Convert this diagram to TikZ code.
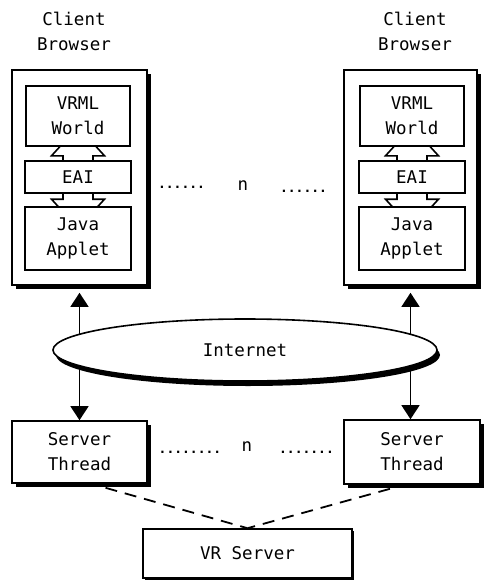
\documentclass[tikz,border=0pt]{standalone}
\usepackage{fontspec}
\setmainfont{DejaVu Sans Mono}
\usepackage{tikz}
\usetikzlibrary{shapes.geometric,arrows.meta,calc,shadows}
\pgfdeclarelayer{back}
\pgfdeclarelayer{mid}
\pgfsetlayers{back,mid,main}

\tikzset{
    box/.style={rectangle,draw,line width=1.6pt,fill=white,align=center,inner sep=0pt},
    heavyshadow/.style={drop shadow={shadow xshift=4pt,shadow yshift=-4pt,fill=black,opacity=1}},
    lightshadow/.style={drop shadow={shadow xshift=2pt,shadow yshift=-2pt,fill=black,opacity=1}},
    blockarrow/.style={draw,line width=1.6pt,fill=white,line join=miter},
    link/.style={line width=1.4pt,{Triangle[length=14pt,width=18pt]}-{Triangle[length=14pt,width=18pt]},shorten <=7pt},
    threadlink/.style={line width=1.8pt,dash pattern=on 12pt off 8pt},
    dotrow/.style={font=\fontsize{13}{15}\selectfont\bfseries,inner sep=0pt},
}

\begin{document}
\begin{tikzpicture}[x=1pt,y=-1pt,font=\fontsize{17.5}{25}\selectfont]
    \useasboundingbox (0,0) rectangle (487,581);

    % Client browsers (outer frames)
    \begin{pgfonlayer}{back}
        \node[box,heavyshadow,minimum width=135pt,minimum height=215pt] (browserL) at (79.5,177.5) {};
        \node[box,heavyshadow,minimum width=133pt,minimum height=215pt] (browserR) at (410.5,177.5) {};
    \end{pgfonlayer}
    \node[align=center] (labelL) at (74,31) {Client\\Browser};
    \node[align=center] (labelR) at (415,31) {Client\\Browser};

    % Left browser contents
    \node[box,minimum width=104pt,minimum height=60pt] (vrmlL) at (78,116) {VRML\\World};
    \node[box,minimum width=106pt,minimum height=32pt] (eaiL) at (78,177) {EAI};
    \node[box,minimum width=106pt,minimum height=63pt] (javaL) at (78,238.5) {Java\\Applet};

    % Right browser contents
    \node[box,minimum width=104pt,minimum height=60pt] (vrmlR) at (412,116) {VRML\\World};
    \node[box,minimum width=106pt,minimum height=32pt] (eaiR) at (412,177) {EAI};
    \node[box,minimum width=106pt,minimum height=63pt] (javaR) at (412,238.5) {Java\\Applet};

    % EAI block arrows
    \begin{pgfonlayer}{mid}
        \foreach \side in {L,R} {
            \draw[blockarrow] ($(vrml\side.south)+(0,-20)$) -- ++(26.5,29) -- ++(-11.5,0)
                -- ($(java\side.north)+(15,-7)$) -- ++(11.5,0) -- ($(java\side.north)+(0,22)$)
                -- ++(-26.5,-29) -- ++(11.5,0) -- ($(vrml\side.south)+(-15,9)$) -- ++(-11.5,0) -- cycle;
        }
    \end{pgfonlayer}

    % n browsers
    \node[dotrow] (dotsL1) at (181.5,187) {......};
    \node (nTop) at (243,186) {n};
    \node[dotrow] (dotsR1) at (303.5,191) {......};

    % Server threads
    \node[box,heavyshadow,minimum width=135pt,minimum height=62pt] (threadL) at (79.5,452) {Server\\Thread};
    \node[box,heavyshadow,minimum width=136pt,minimum height=64pt] (threadR) at (412,452) {Server\\Thread};

    % n threads
    \node[dotrow] (dotsL2) at (190,452) {........};
    \node (nBottom) at (247,447) {n};
    \node[dotrow] (dotsR2) at (306.5,452) {.......};

    % Browser <-> thread links
    \draw[link] (browserL.south) -- (browserL.south |- threadL.north);
    \draw[link] (browserR.south) -- (browserR.south |- threadR.north);

    % Internet
    \node[ellipse,draw,fill=white,line width=1.6pt,minimum width=384pt,minimum height=62pt,
          drop shadow={shadow xshift=3pt,shadow yshift=-5pt,fill=black,opacity=1}] (internet) at (245,350) {Internet};

    % VR server
    \node[box,lightshadow,minimum width=209pt,minimum height=49pt] (vrserver) at (247.5,553.5) {VR Server};
    \draw[threadlink] ($(threadL.south)+(26,4)$) -- (vrserver.north);
    \draw[threadlink] ($(threadR.south)+(-22,4)$) -- (vrserver.north);
\end{tikzpicture}
\end{document}
